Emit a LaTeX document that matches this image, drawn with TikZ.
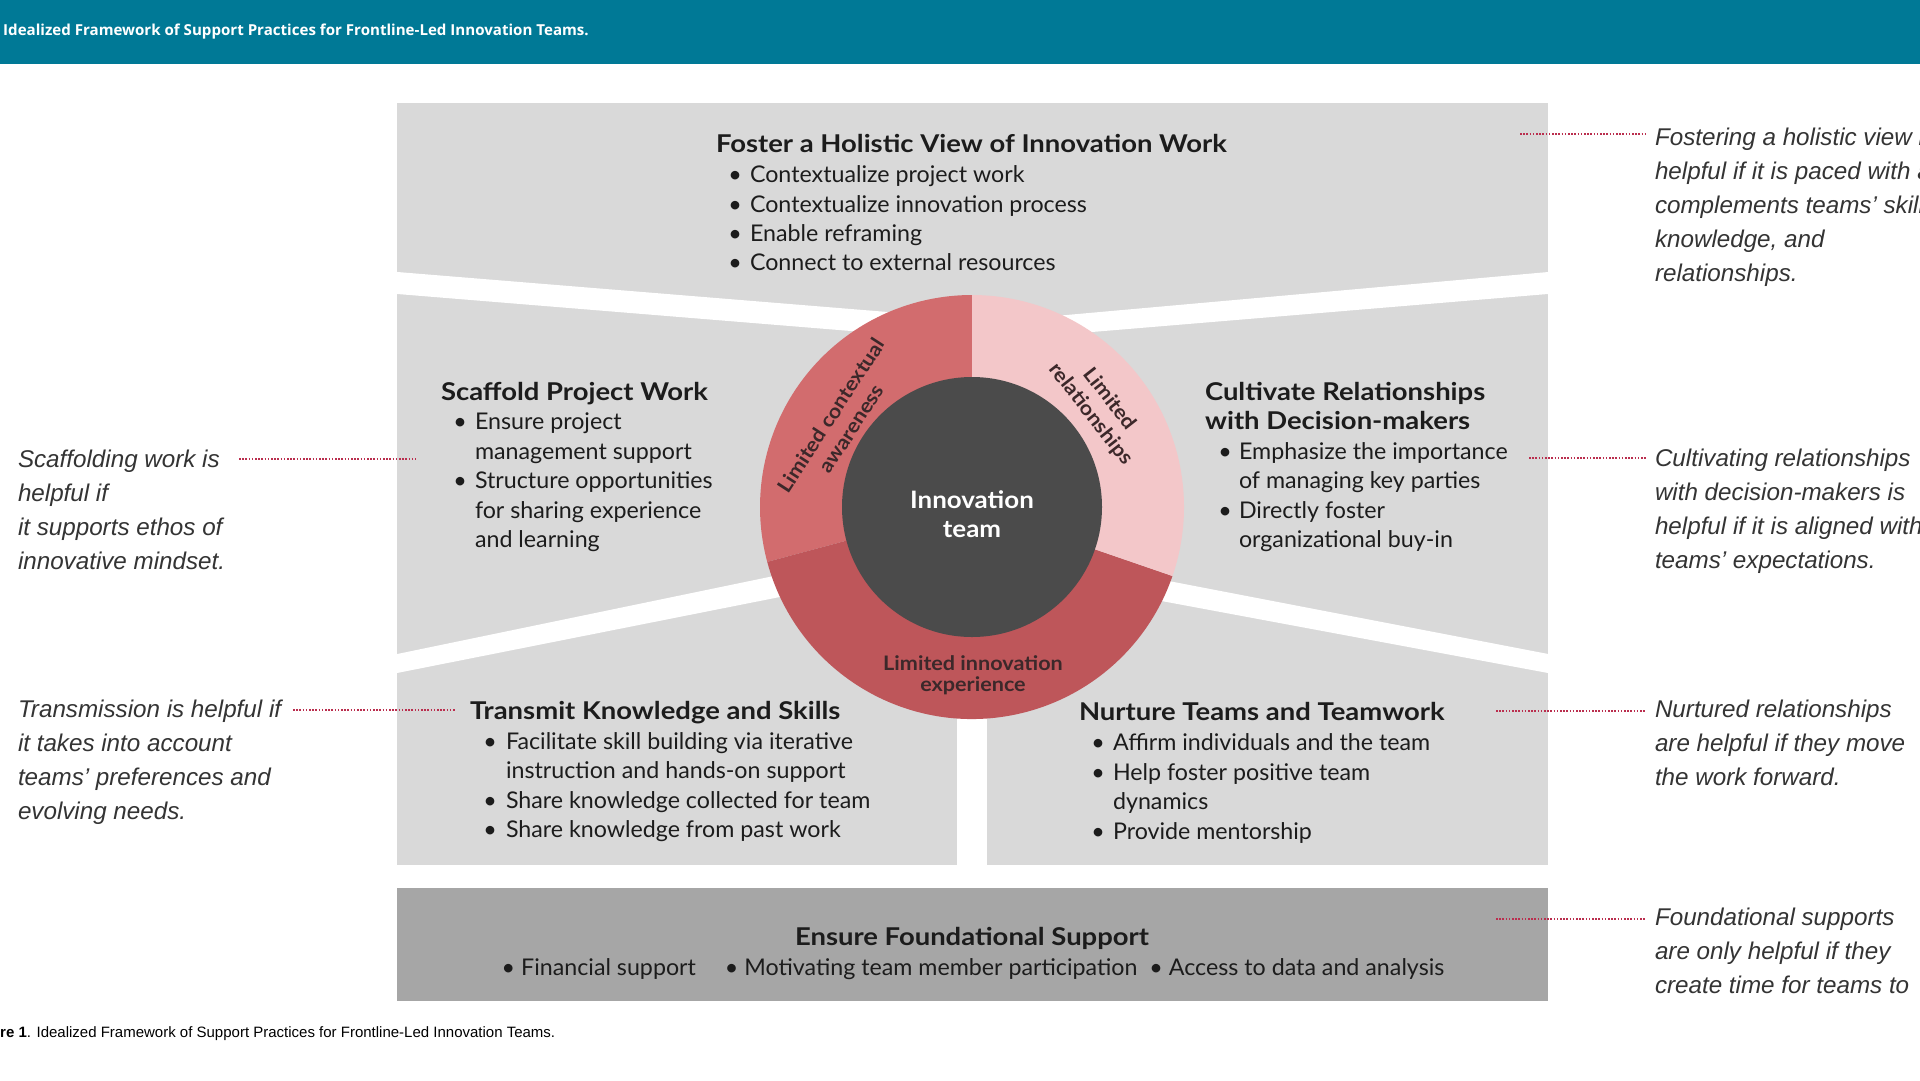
\documentclass[tikz,border=0pt]{standalone}
\usepackage{fontspec}
\setmainfont{Lato}
\newfontfamily\bodyfont[FakeStretch=1.01]{Lato}
\newfontfamily\headfont[FakeStretch=1.12]{Lato}
\newfontfamily\corefont[FakeStretch=1.08]{Lato}
\newfontfamily\osans{Open Sans}
\newfontfamily\arialf{Liberation Sans}
\definecolor{barteal}{RGB}{0,121,150}
\definecolor{panelgrey}{RGB}{217,217,217}
\definecolor{foundgrey}{RGB}{166,166,166}
\definecolor{segA}{RGB}{210,108,110}
\definecolor{segB}{RGB}{190,86,90}
\definecolor{segC}{RGB}{243,199,201}
\definecolor{coredark}{RGB}{75,75,75}
\definecolor{txt}{RGB}{28,28,28}
\definecolor{ringtxt}{RGB}{60,40,42}
\definecolor{notetxt}{RGB}{52,52,52}
\definecolor{dotred}{RGB}{186,46,78}
\tikzset{
  lbl/.style={anchor=base west, inner sep=0pt, outer sep=0pt, text=txt, font=\bodyfont\fontsize{23}{28}\selectfont},
  ttl/.style={anchor=base west, inner sep=0pt, outer sep=0pt, text=txt, font=\headfont\bfseries\fontsize{24.5}{28}\selectfont},
  bul/.style={anchor=base, inner sep=0pt, outer sep=0pt, text=txt, font=\bodyfont\fontsize{23}{28}\selectfont},
  note/.style={anchor=base west, inner sep=0pt, outer sep=0pt, text=notetxt, font=\arialf\itshape\fontsize{24.2}{28}\selectfont},
  ringlbl/.style={inner sep=0pt, outer sep=0pt, text=ringtxt, align=center, font=\corefont\bfseries\fontsize{20}{24}\selectfont},
  dotline/.style={draw=dotred, line width=2.8pt, dash pattern=on 1.6pt off 1.6pt},
  strip/.style={fill=white},
}
\begin{document}
\begin{tikzpicture}[x=1pt,y=-1pt]
\useasboundingbox (0,0) rectangle (1920,1080);
\fill[white] (0,0) rectangle (1920,1080);
% top bar
\fill[barteal] (0,0) rectangle (1920,64);
\node[anchor=base west, inner sep=0pt, text=white, font=\osans\bfseries\fontsize{15.1}{18}\selectfont] (bartitle) at (3,35) {Idealized Framework of Support Practices for Frontline-Led Innovation Teams.};
% panels
\fill[panelgrey] (397,103) rectangle (1548,865);
\fill[strip] (390,271.4) -- (900,313) -- (900,335) -- (390,293.4) -- cycle;
\fill[strip] (1555,271.4) -- (1044,317) -- (1044,336) -- (1555,293.4) -- cycle;
\fill[strip] (390,655.5) -- (800,570.6) -- (800,593) -- (390,674.4) -- cycle;
\fill[strip] (1555,655.3) -- (1140,575.5) -- (1140,597) -- (1555,674.3) -- cycle;
\fill[strip] (957,600) rectangle (987,870);
\fill[foundgrey] (397,888) rectangle (1548,1001);
% ring
\coordinate (C) at (972,507);
\fill[segA] (C) -- ++(-90:212) arc[start angle=-90, end angle=-195, radius=212] -- cycle;
\fill[segB] (C) -- ++(-195:212) arc[start angle=-195, end angle=-341, radius=212] -- cycle;
\fill[segC] (C) -- ++(19:212) arc[start angle=19, end angle=-90, radius=212] -- cycle;
\fill[coredark] (C) circle[radius=130];
\node[inner sep=0pt, anchor=base, text=white, font=\corefont\bfseries\fontsize{24}{28}\selectfont] (core1) at (972,508) {Innovation};
\node[inner sep=0pt, anchor=base, text=white, font=\corefont\bfseries\fontsize{24}{28}\selectfont] (core2) at (972,537) {team};
\node[ringlbl, rotate=57] (ringA) at (841,422) {Limited contextual\\awareness};
\node[ringlbl, rotate=-52] (ringC) at (1100,407) {Limited\\relationships};
\node[ringlbl, anchor=base] (ringB1) at (973,670) {Limited innovation};
\node[ringlbl, anchor=base] (ringB2) at (973,691) {experience};
% top panel text
\node[ttl] (hT) at (716,152) {Foster a Holistic View of Innovation Work};
\node[bul] (hTb1) at (735,182.5) {\textbullet};\node[lbl] (hT1) at (750,182.5) {Contextualize project work};
\node[bul] (hTb2) at (735,212) {\textbullet};\node[lbl] (hT2) at (750,212) {Contextualize innovation process};
\node[bul] (hTb3) at (735,241) {\textbullet};\node[lbl] (hT3) at (750,241) {Enable reframing};
\node[bul] (hTb4) at (735,270) {\textbullet};\node[lbl] (hT4) at (750,270) {Connect to external resources};
% scaffold
\node[ttl] (sP) at (441,400) {Scaffold Project Work};
\node[bul] (sPb1) at (460,429) {\textbullet};\node[lbl] (sP1) at (475,429) {Ensure project};
\node[lbl] (sP2) at (475,459) {management support};
\node[bul] (sPb2) at (460,488) {\textbullet};\node[lbl] (sP3) at (475,488) {Structure opportunities};
\node[lbl] (sP4) at (475,518) {for sharing experience};
\node[lbl] (sP5) at (475,547) {and learning};
% cultivate
\node[ttl] (cR) at (1205,400) {Cultivate Relationships};
\node[ttl] (cR2) at (1205,429) {with Decision-makers};
\node[bul] (cRb1) at (1225,459) {\textbullet};\node[lbl] (cR3) at (1239,459) {Emphasize the importance};
\node[lbl] (cR4) at (1239,488) {of managing key parties};
\node[bul] (cRb2) at (1225,518) {\textbullet};\node[lbl] (cR5) at (1239,518) {Directly foster};
\node[lbl] (cR6) at (1239,547) {organizational buy-in};
% transmit
\node[ttl] (tK) at (470,719) {Transmit Knowledge and Skills};
\node[bul] (tKb1) at (490,749) {\textbullet};\node[lbl] (tK1) at (506,749) {Facilitate skill building via iterative};
\node[lbl] (tK2) at (506,778) {instruction and hands-on support};
\node[bul] (tKb2) at (490,808) {\textbullet};\node[lbl] (tK3) at (506,808) {Share knowledge collected for team};
\node[bul] (tKb3) at (490,837) {\textbullet};\node[lbl] (tK4) at (506,837) {Share knowledge from past work};
% nurture
\node[ttl] (nT) at (1079,720) {Nurture Teams and Teamwork};
\node[bul] (nTb1) at (1098,750) {\textbullet};\node[lbl] (nT1) at (1113,750) {Affirm individuals and the team};
\node[bul] (nTb2) at (1098,780) {\textbullet};\node[lbl] (nT2) at (1113,780) {Help foster positive team};
\node[lbl] (nT3) at (1113,809) {dynamics};
\node[bul] (nTb3) at (1098,839) {\textbullet};\node[lbl] (nT4) at (1113,839) {Provide mentorship};
% foundation
\node[ttl, anchor=base] (fS) at (972,945) {Ensure Foundational Support};
\node[lbl, anchor=base] (fS1) at (973,975) {\textbullet\ Financial support\quad\ \textbullet\ Motivating team member participation\ \ \textbullet\ Access to data and analysis};
% left notes
\node[note] (nL1) at (18,467) {Scaffolding work is};
\node[note] (nL2) at (18,501) {helpful if};
\node[note] (nL3) at (18,535) {it supports ethos of};
\node[note] (nL4) at (18,569) {innovative mindset.};
\node[note] (nL5) at (18,717) {Transmission is helpful if};
\node[note] (nL6) at (18,751) {it takes into account};
\node[note] (nL7) at (18,785) {teams’ preferences and};
\node[note] (nL8) at (18,819) {evolving needs.};
% right notes
\node[note] (nR1) at (1655,145) {Fostering a holistic view i};
\node[note] (nR2) at (1655,179) {helpful if it is paced with a};
\node[note] (nR3) at (1655,213) {complements teams’ skill};
\node[note] (nR4) at (1655,247) {knowledge, and};
\node[note] (nR5) at (1655,281) {relationships.};
\node[note] (nR6) at (1655,466) {Cultivating relationships};
\node[note] (nR7) at (1655,500) {with decision-makers is};
\node[note] (nR8) at (1655,534) {helpful if it is aligned with};
\node[note] (nR9) at (1655,568) {teams’ expectations.};
\node[note] (nR10) at (1655,717) {Nurtured relationships};
\node[note] (nR11) at (1655,751) {are helpful if they move};
\node[note] (nR12) at (1655,785) {the work forward.};
\node[note] (nR13) at (1655,925) {Foundational supports};
\node[note] (nR14) at (1655,959) {are only helpful if they};
\node[note] (nR15) at (1655,993) {create time for teams to};
% dotted connectors
\coordinate (d1a) at (239,459); \coordinate (d1b) at (416,459);
\coordinate (d2a) at (293,710); \coordinate (d2b) at (456,710);
\coordinate (d3a) at (1520,134); \coordinate (d3b) at (1646,134);
\coordinate (d4a) at (1529,458); \coordinate (d4b) at (1646,458);
\coordinate (d5a) at (1496,711); \coordinate (d5b) at (1646,711);
\coordinate (d6a) at (1496,919); \coordinate (d6b) at (1646,919);
\draw[dotline] (d1a) -- (d1b);
\draw[dotline] (d2a) -- (d2b);
\draw[dotline] (d3a) -- (d3b);
\draw[dotline] (d4a) -- (d4b);
\draw[dotline] (d5a) -- (d5b);
\draw[dotline] (d6a) -- (d6b);
% caption
\node[anchor=base west, inner sep=0pt, text=black, font=\arialf\fontsize{15}{17}\selectfont] (cap) at (0,1037) {\textbf{re 1}. Idealized Framework of Support Practices for Frontline-Led Innovation Teams.};
\end{tikzpicture}
\end{document}
